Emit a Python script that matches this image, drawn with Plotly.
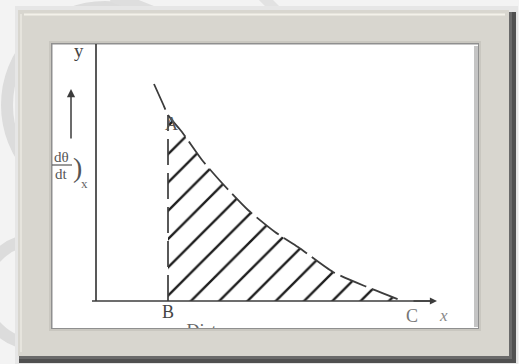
import plotly.graph_objects as go

# Rate of change of temperature along the distance axis (arbitrary units)
distance = [1.16, 1.34, 1.44, 1.72, 2.12, 2.52, 3.04, 3.58, 4.04, 4.74, 5.42, 6.08]
rate = [4.34, 3.94, 3.72, 3.38, 2.82, 2.36, 1.82, 1.38, 1.08, 0.58, 0.28, 0.02]

point_B = 1.44          # start of the shaded area
point_C = 6.08          # end of the shaded area
x_axis_end = 6.82       # tip of the distance arrow
y_axis_end = 5.18       # top of the vertical axis

W, H = 519, 364
L, R, T, B = 52, 41, 44, 36          # plot area = white panel of the frame
PW, PH = W - L - R, H - T - B

INK = "#3c3c3c"
SERIF = "Liberation Serif, Times New Roman, serif"


def px(x):
    return (x - L) / PW


def py(y):
    return (H - B - y) / PH


def rect(x0, y0, x1, y1, fill, line=None, lw=0, layer="below"):
    return dict(type="rect", xref="paper", yref="paper",
                x0=px(x0), x1=px(x1), y0=py(y1), y1=py(y0),
                fillcolor=fill, line=dict(color=line or fill, width=lw),
                layer=layer)


def seg(x0, y0, x1, y1, color, lw):
    return dict(type="line", xref="paper", yref="paper",
                x0=px(x0), x1=px(x1), y0=py(y0), y1=py(y1),
                line=dict(color=color, width=lw), layer="below")


def ring(cx, cy, r, color, lw):
    return dict(type="circle", xref="paper", yref="paper",
                x0=px(cx - r), x1=px(cx + r), y0=py(cy + r), y1=py(cy - r),
                line=dict(color=color, width=lw), layer="below")


shapes = [
    # faint background arcs
    ring(105, 105, 98, "#dcdcdc", 12),
    ring(35, 292, 52, "#dcdcdc", 12),
    seg(112, -4, 158, 14, "#dedede", 12),
    seg(262, -4, 280, 14, "#e2e2e2", 10),
    # soft shadow around the frame
    rect(15, 6, 518, 364, "#e6e6e6"),
    # dark outer edges (right and bottom)
    rect(19, 12, 516, 363, "#505050"),
    rect(19, 12, 512, 359, "#6a6a6a"),
    # frame body
    rect(18, 10, 509, 356, "#d8d6cf"),
    # top/left highlight
    seg(24, 14.5, 505, 14.5, "#f3f1ea", 2),
    seg(21, 14, 21, 352, "#e6e4dd", 2),
    # panel recess
    rect(49, 41, 481, 331, "#c9c7c0"),
    rect(51, 43, 479, 329, "#8f8f8f"),
    rect(52.5, 44.5, 478, 328, "#ffffff"),
    rect(474, 46, 478, 327, "#c4c4c4"),
]

fig = go.Figure()

# hatched area under the curve between B and C
i_b = distance.index(point_B)
fig.add_trace(go.Scatter(
    x=distance[i_b:], y=rate[i_b:], mode="lines",
    line=dict(width=0, shape="spline", smoothing=0.6),
    fill="tozeroy", fillcolor="rgba(0,0,0,0)",
    fillpattern=dict(shape="/", size=20, solidity=0.12, fgopacity=1,
                     fgcolor="#1e1e1e", bgcolor="rgba(0,0,0,0)"),
    hoverinfo="skip", showlegend=False,
))

# dashed curve
fig.add_trace(go.Scatter(
    x=distance, y=rate, mode="lines",
    line=dict(color=INK, width=1.8, dash="28px,6px", shape="spline", smoothing=0.6),
    hoverinfo="skip", showlegend=False,
))

# dashed ordinate at B
fig.add_trace(go.Scatter(
    x=[point_B, point_B], y=[0, rate[i_b]], mode="lines",
    line=dict(color=INK, width=1.7, dash="26px,8px"),
    hoverinfo="skip", showlegend=False,
))

# axes
fig.add_trace(go.Scatter(
    x=[0, 0, None, -0.08, x_axis_end - 0.05], y=[y_axis_end, 0, None, 0, 0],
    mode="lines", line=dict(color=INK, width=1.7),
    hoverinfo="skip", showlegend=False, cliponaxis=False,
))

# axis name partly hidden under the frame
fig.add_trace(go.Scatter(
    x=[2.44], y=[-0.63], mode="text", text=["Distance"],
    textfont=dict(family=SERIF, size=18, color="#666"),
    textposition="middle center", cliponaxis=True,
    hoverinfo="skip", showlegend=False,
))

ann = []


def label(x, y, text, size=18, color="#555", italic=False):
    ann.append(dict(x=x, y=y, xref="x", yref="y", text=text, showarrow=False,
                    font=dict(family=SERIF, size=size, color=color),
                    xanchor="center", yanchor="middle"))
    if italic:
        ann[-1]["text"] = "<i>" + text + "</i>"


label(-0.34, 5.02, "y", 19, "#444")
label(point_B, -0.22, "B", 18, "#444")
label(6.32, -0.29, "C", 18, "#777")
label(6.94, -0.29, "x", 17, "#888", italic=True)
label(1.5, 3.55, "A", 18, "#555")
label(-0.70, 2.89, "dθ", 15, "#555")
label(-0.70, 2.54, "dt", 15, "#555")
label(-0.38, 2.68, ")", 28, "#555")
label(-0.24, 2.36, "x", 13, "#666")

# arrow heads
ann.append(dict(x=x_axis_end, y=0, ax=x_axis_end - 0.5, ay=0,
                xref="x", yref="y", axref="x", ayref="y", text="",
                showarrow=True, arrowhead=2, arrowsize=1.1, arrowwidth=1.3,
                arrowcolor=INK))
ann.append(dict(x=-0.5, y=4.24, ax=-0.5, ay=3.22,
                xref="x", yref="y", axref="x", ayref="y", text="",
                showarrow=True, arrowhead=2, arrowsize=1.1, arrowwidth=1.5,
                arrowcolor=INK))

# fraction bar of dθ/dt
shapes.append(dict(type="line", xref="x", yref="y", x0=-0.92, x1=-0.48,
                   y0=2.72, y1=2.72, line=dict(color="#555", width=1.2),
                   layer="above"))

fig.update_layout(
    width=W, height=H,
    margin=dict(l=L, r=R, t=T, b=B),
    paper_bgcolor="#f3f3f3", plot_bgcolor="rgba(0,0,0,0)",
    xaxis=dict(range=[-0.88, 7.64], visible=False, fixedrange=True),
    yaxis=dict(range=[-0.54, 5.14], visible=False, fixedrange=True),
    shapes=shapes, annotations=ann, showlegend=False,
)

fig.write_html("out.html")
